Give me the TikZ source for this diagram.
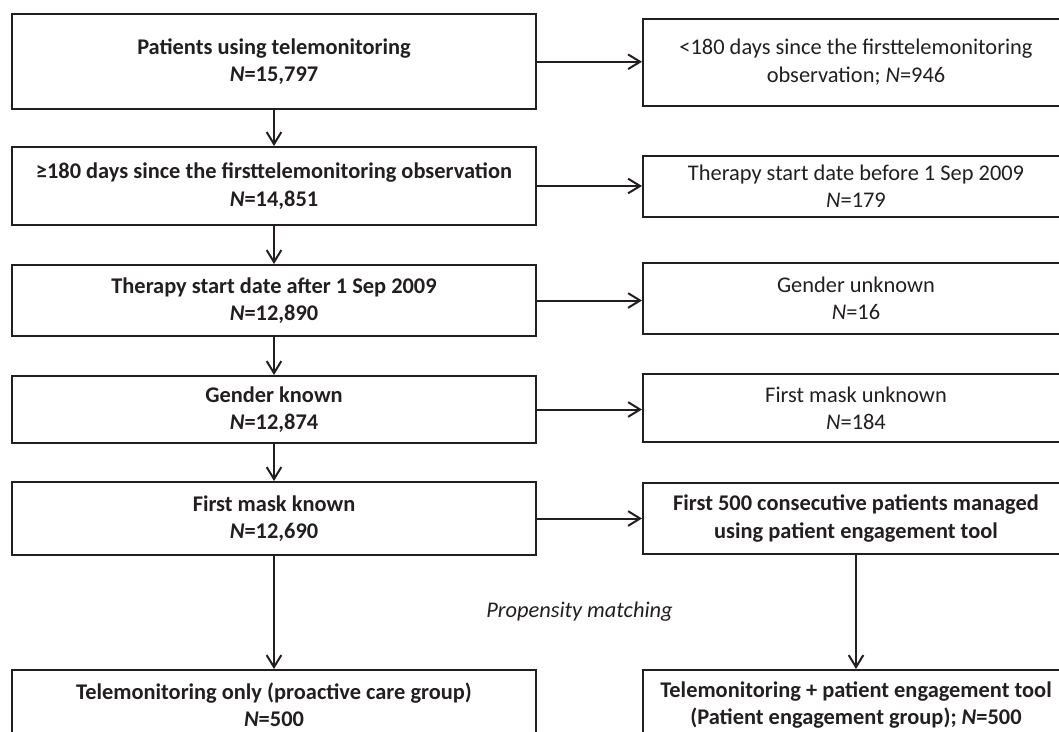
\documentclass[tikz,border=0pt]{standalone}
\usepackage{fontspec}
\setmainfont{Carlito}
\usetikzlibrary{arrows.meta}
\definecolor{ink}{HTML}{231F20}
\begin{document}
\begin{tikzpicture}[x=0.75pt,y=-0.75pt,
  box/.style={draw=ink, line width=1.5pt, align=center, text=ink, inner sep=0pt},
  lbox/.style={box, minimum width=393pt, font=\bfseries\fontsize{16.8}{20.5}\selectfont},
  rbox/.style={box, minimum width=319.5pt, font=\fontsize{16.8}{20.5}\selectfont},
  rboxb/.style={box, minimum width=319.5pt, font=\bfseries\fontsize{16.8}{20.5}\selectfont},
  note/.style={font=\itshape\fontsize{16.8}{20.5}\selectfont, text=ink, inner sep=0pt},
  arr/.style={draw=ink, line width=1.5pt, -{Straight Barb[length=9pt,width=11pt]}}]
\useasboundingbox (0,0) rectangle (1059,731);
\clip (0,0) rectangle (1059,731);
\fill[white] (0,0) rectangle (1059,731);
% left column
\node[lbox, minimum height=71.6pt] (L1) at (274,61.75) {Patients using telemonitoring\\\textit{N}=15,797};
\node[lbox, minimum height=58.5pt] (L2) at (274,186) {≥180 days since the firsttelemonitoring observation\\\textit{N}=14,851};
\node[lbox, minimum height=53.25pt] (L3) at (274,300.5) {Therapy start date after 1 Sep 2009\\\textit{N}=12,890};
\node[lbox, minimum height=50.25pt] (L4) at (274,409.5) {Gender known\\\textit{N}=12,874};
\node[lbox, minimum height=54.75pt] (L5) at (274,518.5) {First mask known\\\textit{N}=12,690};
\node[lbox, minimum height=52.5pt] (L6) at (274,705) {Telemonitoring only (proactive care group)\\\textit{N}=500};
% right column
\node[rbox, minimum height=64.9pt] (R1) at (856,62.25) {<180 days since the firsttelemonitoring\\observation; \textit{N}=946};
\node[rbox, minimum height=45.75pt] (R2) at (856,186.5) {Therapy start date before 1 Sep 2009\\\textit{N}=179};
\node[rbox, minimum height=53.25pt] (R3) at (856,298.5) {Gender unknown\\\textit{N}=16};
\node[rbox, minimum height=51pt] (R4) at (856,408) {First mask unknown\\\textit{N}=184};
\node[rboxb, minimum height=53.25pt] (R5) at (856,518.5) {First 500 consecutive patients managed\\using patient engagement tool};
\node[rboxb, minimum height=52.5pt] (R6) at (856,705) {Telemonitoring + patient engagement tool\\(Patient engagement group); \textit{N}=500};
\node[note, anchor=base] (pm) at (579.5,617) {Propensity matching};
% vertical arrows
\draw[arr] (L1.south) -- (L2.north);
\draw[arr] (L2.south) -- (L3.north);
\draw[arr] (L3.south) -- (L4.north);
\draw[arr] (L4.south) -- (L5.north);
\draw[arr] (L5.south) -- (L6.north);
\draw[arr] (R5.south) -- (R6.north);
% horizontal arrows
\draw[arr] (L1.east) -- (L1.east -| R1.west);
\draw[arr] (L2.east) -- (L2.east -| R2.west);
\draw[arr] (L3.east) -- (L3.east -| R3.west);
\draw[arr] (L4.east) -- (L4.east -| R4.west);
\draw[arr] (L5.east) -- (L5.east -| R5.west);
\end{tikzpicture}
\end{document}
